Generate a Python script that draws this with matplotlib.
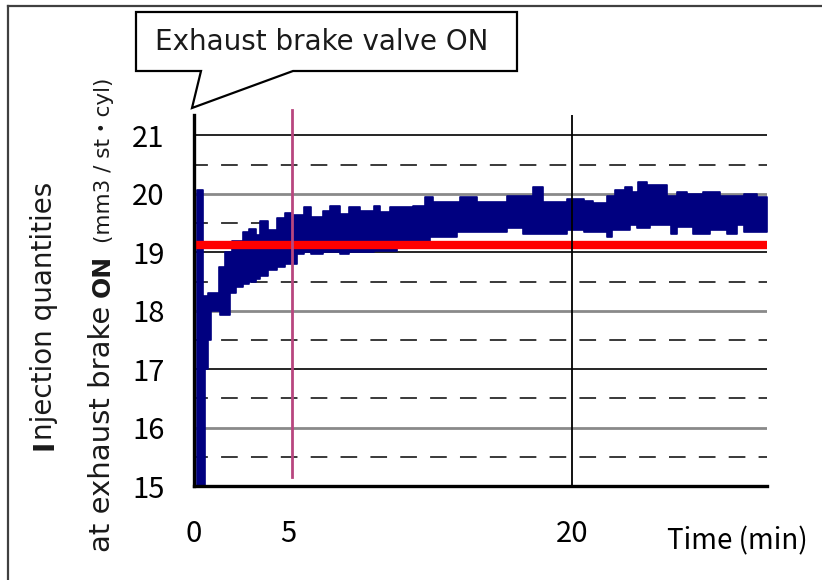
import numpy as np
import matplotlib
matplotlib.use('Agg')
import matplotlib.pyplot as plt
from matplotlib.patches import Polygon
from matplotlib.lines import Line2D

W, H = 822, 580
FONT = ['Noto Sans CJK JP', 'DejaVu Sans']
LABEL_FONT = ['DejaVu Sans', 'Noto Sans CJK JP']
plt.rcParams['font.family'] = FONT
plt.rcParams['lines.scale_dashes'] = False

# injection trace, read as step envelope (time in min, upper / lower value)
t_pts = [0.15, 0.45, 0.6, 0.72, 0.9, 1.3, 1.4, 1.65, 1.9, 2.0, 2.2, 2.6, 2.9,
         3.3, 3.5, 3.9, 4.4, 4.8, 5.2, 5.45, 5.8, 6.2, 6.8, 7.2, 7.7, 8.2,
         8.8, 9.5, 9.84, 10.37, 10.72, 11.6, 12.22, 12.49, 12.66, 13.9,
         14.07, 14.95, 16.53, 17.42, 17.95, 18.47, 19.7, 20.6, 21.12, 21.83,
         22.1, 22.27, 22.8, 23.06, 23.15, 23.4, 23.5, 23.95, 24.1, 25.0,
         25.2, 25.53, 26.06, 26.4, 26.94, 27.3, 27.83, 28.2, 28.7, 29.06,
         29.77, 30.3]
q_hi = [20.06, 18.25, 18.25, 18.3, 18.3, 18.75, 18.75, 19.0, 19.0, 19.2,
        19.2, 19.35, 19.4, 19.3, 19.53, 19.38, 19.58, 19.67, 19.63, 19.63,
        19.77, 19.6, 19.7, 19.8, 19.65, 19.77, 19.7, 19.8, 19.69, 19.77,
        19.77, 19.8, 19.95, 19.95, 19.86, 19.86, 19.95, 19.86, 19.97, 19.97,
        20.12, 19.86, 19.92, 19.88, 19.84, 19.97, 19.97, 20.06, 20.12, 20.12,
        20.03, 20.03, 20.2, 20.15, 20.15, 19.97, 19.97, 20.03, 20.0, 20.0,
        20.03, 20.03, 19.97, 19.97, 19.97, 20.0, 19.94, 19.94]
q_lo = [14.8, 14.8, 17.0, 17.5, 18.0, 18.0, 17.92, 17.92, 18.3, 18.3, 18.4,
        18.45, 18.5, 18.55, 18.6, 18.7, 18.75, 18.8, 18.8, 18.97, 19.0,
        18.97, 19.0, 19.0, 18.97, 19.0, 19.0, 19.03, 19.03, 19.03, 19.09,
        19.09, 19.09, 19.26, 19.26, 19.35, 19.35, 19.35, 19.41, 19.32, 19.32,
        19.32, 19.38, 19.35, 19.35, 19.26, 19.38, 19.38, 19.38, 19.46, 19.46,
        19.41, 19.41, 19.41, 19.46, 19.46, 19.32, 19.43, 19.43, 19.32, 19.32,
        19.38, 19.38, 19.32, 19.46, 19.35, 19.35, 19.35]

target_q = 19.13
target_t = [0.1, 30.3]
valve_on_t = 5.2
y_ticks = [15, 16, 17, 18, 19, 20, 21]
x_ticks = [0, 5, 20]


def px(x, y):
    # image pixel (from top-left) -> figure fraction
    return x / W, 1 - y / H


fig = plt.figure(figsize=(W / 100, H / 100), dpi=100)
ax = fig.add_axes([194 / W, 1 - 486 / H, (767 - 194) / W, (486 - 115) / H])
ax.set_xlim(0, 30.3)
ax.set_ylim(15, 21.35)

for v in y_ticks[1:]:
    if v % 2 == 1:
        ax.axhline(v, color='black', lw=1.2, zorder=1)
    else:
        ax.axhline(v, color='#8a8a8a', lw=2.0, zorder=1)
    ax.axhline(v - 0.5, color='#2a2a2a', lw=1.3, zorder=1,
               linestyle=(2, (12, 9.5)))

ax.fill_between(t_pts, q_lo, q_hi, step='post', color='#000080',
                edgecolor='#000080', lw=1.2, zorder=2)
ax.plot(target_t, [target_q, target_q], color='#ff0000', lw=6, zorder=3,
        solid_capstyle='butt')
ax.axvline(20, color='black', lw=1.3, zorder=4)
ax.plot([valve_on_t, valve_on_t], [15.15, 21.43], color='#b8467f', lw=2.0,
        zorder=5, clip_on=False)

for s in ['top', 'right']:
    ax.spines[s].set_visible(False)
for s in ['left', 'bottom']:
    ax.spines[s].set_linewidth(2.4)
    ax.spines[s].set_zorder(6)

ax.set_yticks(y_ticks)
ax.set_xticks(x_ticks)
ax.tick_params(length=0, labelsize=21)
ax.tick_params(axis='y', pad=21)
ax.tick_params(axis='x', pad=24)

fig.text(*px(808, 541), 'Time (min)', ha='right', va='center', fontsize=20)

# frame of the picture
fig.add_artist(Line2D([8 / W, 1], [1 - 6 / H] * 2, color='#404040', lw=1.6))
fig.add_artist(Line2D([8 / W] * 2, [0, 1 - 6 / H], color='#404040', lw=1.6))

# callout
pts = [(136, 12), (517, 12), (517, 71), (293, 71), (192, 108), (201, 71),
       (136, 71)]
fig.add_artist(Polygon([px(x, y) for x, y in pts], closed=True,
                       facecolor='white', edgecolor='black', lw=1.6,
                       transform=fig.transFigure, zorder=10))
fig.text(*px(155, 42), 'Exhaust brake valve ON', ha='left', va='center',
         fontsize=20, family=LABEL_FONT, color='#1a1a1a', zorder=11)

# rotated y label, built from pieces so parts can be bold / smaller
fig.canvas.draw()
renderer = fig.canvas.get_renderer()


def stack_text(x_img, y_img, pieces):
    y = H - y_img
    for s, size, weight, gap in pieces:
        t = fig.text(x_img / W, y / H, s, rotation=90, rotation_mode='anchor',
                     ha='left', va='baseline', fontsize=size,
                     fontweight=weight, family=LABEL_FONT, color='#1a1a1a')
        y += t.get_window_extent(renderer).height + gap


stack_text(52, 450, [('I', 20, 'bold', 0),
                     ('njection quantities', 20, 'normal', 0)])
stack_text(110, 552, [('at exhaust brake', 21, 'normal', 9),
                      ('ON', 18, 'bold', 12),
                      ('(mm3 / st・cyl)', 15.5, 'normal', 0)])

fig.savefig('out.png', dpi=100)
